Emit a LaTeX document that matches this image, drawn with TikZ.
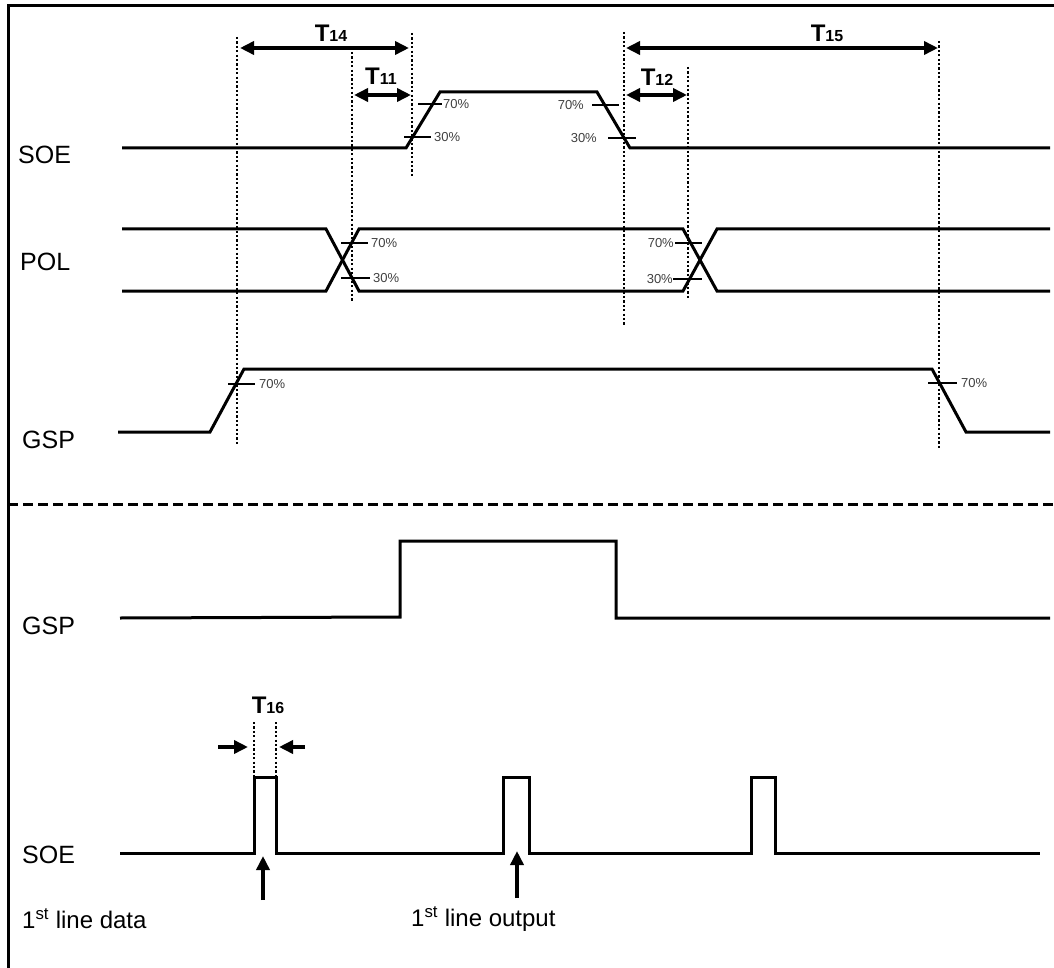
\documentclass[tikz,border=0pt]{standalone}
\usepackage{fontspec}
\setmainfont{Liberation Sans}
\usetikzlibrary{arrows.meta}

\tikzset{
  wave/.style={line width=3pt, line join=miter},
  guide/.style={line width=2.6pt, dash pattern=on 2.2pt off 2.2pt},
  tick/.style={line width=2.4pt},
  dim/.style={line width=3.6pt, {Triangle[length=14pt,width=13pt]}-{Triangle[length=14pt,width=13pt]}},
  push/.style={line width=3.6pt, -{Triangle[length=14pt,width=13pt]}},
  sig/.style={font=\fontsize{25}{25}\selectfont, anchor=west, inner sep=0pt},
  pct/.style={font=\fontsize{13}{13}\selectfont, text=black!75, inner sep=1pt},
  tlabel/.style={font=\bfseries\fontsize{24}{24}\selectfont, inner sep=0pt},
}
\newcommand{\tname}[1]{T{\fontsize{16}{16}\selectfont #1}}

\begin{document}
\begin{tikzpicture}[x=1pt, y=-1pt]
        \useasboundingbox (0,0) rectangle (1054,968);
        \draw[line width=3pt] (8,968) -- (8,6) -- (1054,6);

        % signal names
        \node[sig] (soeA) at (18,155) {SOE};
        \node[sig] (pol) at (20,262) {POL};
        \node[sig] (gspA) at (22,440) {GSP};
        \node[sig] (gspB) at (22,626) {GSP};
        \node[sig] (soeB) at (22,855) {SOE};

        % upper SOE
        \draw[wave] (122,148) -- (406,148) -- (440,92) -- (597,92) -- (630,148) -- (1050,148);
        \draw[tick] (418,104) -- (442,104);
        \node[pct, anchor=west] (soeRise70) at (442,104) {70\%};
        \draw[tick] (404,137) -- (431,137);
        \node[pct, anchor=west] (soeRise30) at (433,137) {30\%};
        \draw[tick] (592,105) -- (619,105);
        \node[pct, anchor=east] (soeFall70) at (585,105) {70\%};
        \draw[tick] (608,138) -- (636,138);
        \node[pct, anchor=east] (soeFall30) at (598,138) {30\%};

        % POL
        \draw[wave] (122,229) -- (326,229) -- (359,291) -- (683,291) -- (717,229) -- (1050,229);
        \draw[wave] (122,291) -- (326,291) -- (359,229) -- (683,229) -- (717,291) -- (1050,291);
        \draw[tick] (341,243) -- (368,243);
        \node[pct, anchor=west] (polA70) at (370,243) {70\%};
        \draw[tick] (341,278) -- (370,278);
        \node[pct, anchor=west] (polA30) at (372,278) {30\%};
        \draw[tick] (675,243) -- (702,243);
        \node[pct, anchor=east] (polB70) at (675,243) {70\%};
        \draw[tick] (673,279) -- (702,279);
        \node[pct, anchor=east] (polB30) at (674,279) {30\%};

        % upper GSP
        \draw[wave] (118,432) -- (210,432) -- (244,369) -- (932,369) -- (966,432) -- (1050,432);
        \draw[tick] (228,384) -- (255,384);
        \node[pct, anchor=west] (gspRise70) at (258,384) {70\%};
        \draw[tick] (928,383) -- (957,383);
        \node[pct, anchor=west] (gspFall70) at (960,383) {70\%};

        % guides
        \draw[guide] (237,37) -- (237,446);
        \draw[guide] (352,52) -- (352,302);
        \draw[guide] (412,33) -- (412,176);
        \draw[guide] (624,32) -- (624,326);
        \draw[guide] (688,67) -- (688,300);
        \draw[guide] (939,41) -- (939,450);

        % timings
        \draw[dim] (240,48) -- (409,48);
        \node[tlabel] (t14) at (331,33) {\tname{14}};
        \draw[dim] (354,95) -- (411,95);
        \node[tlabel] (t11) at (381,76) {\tname{11}};
        \draw[dim] (626,95) -- (687,95);
        \node[tlabel] (t12) at (657,77) {\tname{12}};
        \draw[dim] (626,48) -- (938,48);
        \node[tlabel] (t15) at (827,33) {\tname{15}};

        \draw[line width=3pt, dash pattern=on 10pt off 5pt] (8,504) -- (1054,504);

        % lower GSP
        \draw[wave] (120,618) -- (400,617) -- (400,541) -- (616,541) -- (616,618) -- (1050,618);

        % lower SOE
        \draw[wave] (120,853) -- (254,853) -- (254,777) -- (276,777) -- (276,853)
            -- (503,853) -- (503,777) -- (529,777) -- (529,853)
            -- (751,853) -- (751,777) -- (775,777) -- (775,853) -- (1040,853);
        \draw[guide] (254,722) -- (254,853);
        \draw[guide] (276,722) -- (276,853);
        \draw[push] (218,747) -- (248,747);
        \draw[push] (305,747) -- (279,747);
        \node[tlabel] (t16) at (268,705) {\tname{16}};

        \draw[push] (263,900) -- (263,856);
        \draw[push] (517,898) -- (517,851);
        \node[sig, font=\fontsize{24}{24}\selectfont] (lineData) at (22,919) {1\textsuperscript{st} line data};
        \node[sig, font=\fontsize{24}{24}\selectfont] (lineOut) at (411,919) {1\textsuperscript{st} line output};
    \end{tikzpicture}
\end{document}
